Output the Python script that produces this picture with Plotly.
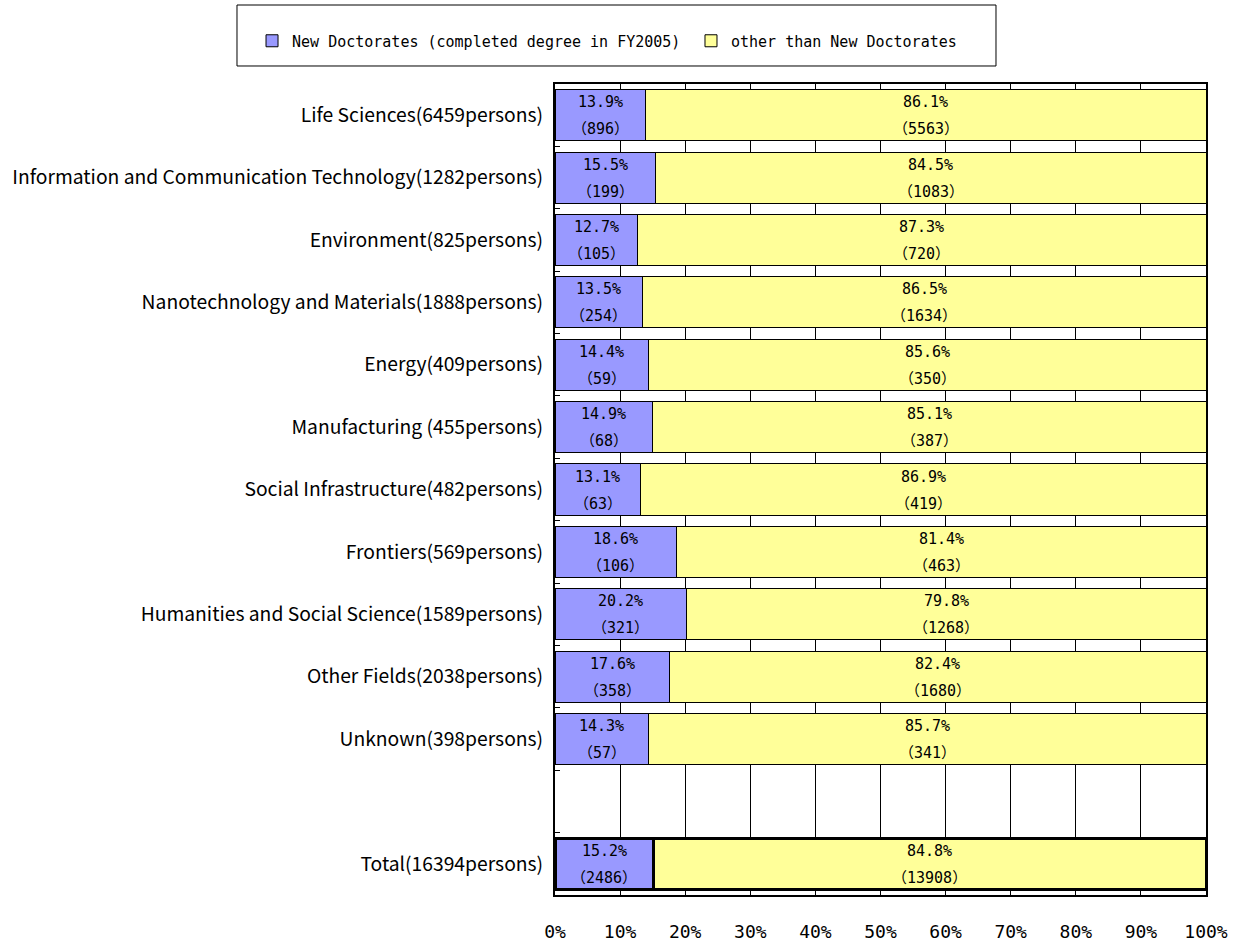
import plotly.graph_objects as go

categories = [
    "Life Sciences(6459persons)",
    "Information and Communication Technology(1282persons)",
    "Environment(825persons)",
    "Nanotechnology and Materials(1888persons)",
    "Energy(409persons)",
    "Manufacturing (455persons)",
    "Social Infrastructure(482persons)",
    "Frontiers(569persons)",
    "Humanities and Social Science(1589persons)",
    "Other Fields(2038persons)",
    "Unknown(398persons)",
    "Total(16394persons)",
]
new_pct = [13.9, 15.5, 12.7, 13.5, 14.4, 14.9, 13.1, 18.6, 20.2, 17.6, 14.3, 15.2]
other_pct = [86.1, 84.5, 87.3, 86.5, 85.6, 85.1, 86.9, 81.4, 79.8, 82.4, 85.7, 84.8]
new_cnt = [896, 199, 105, 254, 59, 68, 63, 106, 321, 358, 57, 2486]
other_cnt = [5563, 1083, 720, 1634, 350, 387, 419, 463, 1268, 1680, 341, 13908]
series_names = ["New Doctorates (completed degree in FY2005)", "other than New Doctorates"]
x_ticks = [0, 10, 20, 30, 40, 50, 60, 70, 80, 90, 100]
x_tick_labels = ["0%", "10%", "20%", "30%", "40%", "50%", "60%", "70%", "80%", "90%", "100%"]
spacer = " "

cat_order = categories[:-1] + [spacer] + categories[-1:]

FONT = "Noto Sans CJK JP"
MONO = "DejaVu Sans Mono, Noto Sans CJK JP"
line_w = [1] * (len(categories) - 1) + [3]

fig = go.Figure()
fig.add_trace(go.Bar(
    y=categories, x=new_pct, orientation="h", name=series_names[0],
    marker=dict(color="#9999FF", line=dict(color="black", width=line_w)),
    width=0.82, hoverinfo="skip", legend="legend",
))
fig.add_trace(go.Bar(
    y=categories, x=other_pct, orientation="h", name=series_names[1],
    marker=dict(color="#FFFF99", line=dict(color="black", width=line_w)),
    width=0.82, hoverinfo="skip", legend="legend2",
))

ann = []
for c, p1, p2, n1, n2 in zip(categories, new_pct, other_pct, new_cnt, other_cnt):
    for xc, p, n in ((p1 / 2, p1, n1), (p1 + p2 / 2, p2, n2)):
        ann.append(dict(x=xc, y=c, xref="x", yref="y", text=f"{p:.1f}%", showarrow=False,
                        yshift=13, font=dict(family=MONO, size=15, color="black")))
        ann.append(dict(x=xc, y=c, xref="x", yref="y", text=f"（{n}）", showarrow=False,
                        yshift=-14, font=dict(family=MONO, size=15, color="black")))

leg_common = dict(orientation="h", yanchor="middle", y=1.053, xanchor="left",
                  font=dict(family=MONO, size=15, color="black"),
                  bgcolor="rgba(0,0,0,0)", borderwidth=0)

fig.update_layout(
    width=1239, height=942,
    margin=dict(l=555, r=33, t=84, b=47),
    barmode="stack",
    paper_bgcolor="white", plot_bgcolor="white",
    font=dict(family=FONT, color="black"),
    annotations=ann,
    showlegend=True,
    legend=dict(x=-0.4654, **leg_common),
    legend2=dict(x=0.2089, **leg_common),
    shapes=[dict(type="rect", xref="paper", yref="paper", x0=-0.4885, x1=0.6774,
                 y0=1.0222, y1=1.0974, line=dict(color="black", width=1))],
)
fig.update_xaxes(range=[0, 100], tickmode="array", tickvals=x_ticks, ticktext=x_tick_labels,
                 showgrid=True, gridcolor="black", gridwidth=1,
                 showline=True, linecolor="black", linewidth=2, mirror=True,
                 tickfont=dict(family=MONO, size=18, color="black"), ticks="", ticklabelstandoff=19,
                 zeroline=False, fixedrange=True, automargin=False)
fig.update_yaxes(type="category", categoryorder="array", categoryarray=cat_order,
                 autorange="reversed", showgrid=False,
                 showline=True, linecolor="black", linewidth=2, mirror=True,
                 ticks="inside", tickson="boundaries", ticklen=5, tickcolor="black",
                 tickfont=dict(family=FONT, size=19.3, color="black"), ticklabelstandoff=6,
                 fixedrange=True, automargin=False)

fig.write_html("out.html", config={"displayModeBar": False},
               post_script="document.body.style.margin='0';")
